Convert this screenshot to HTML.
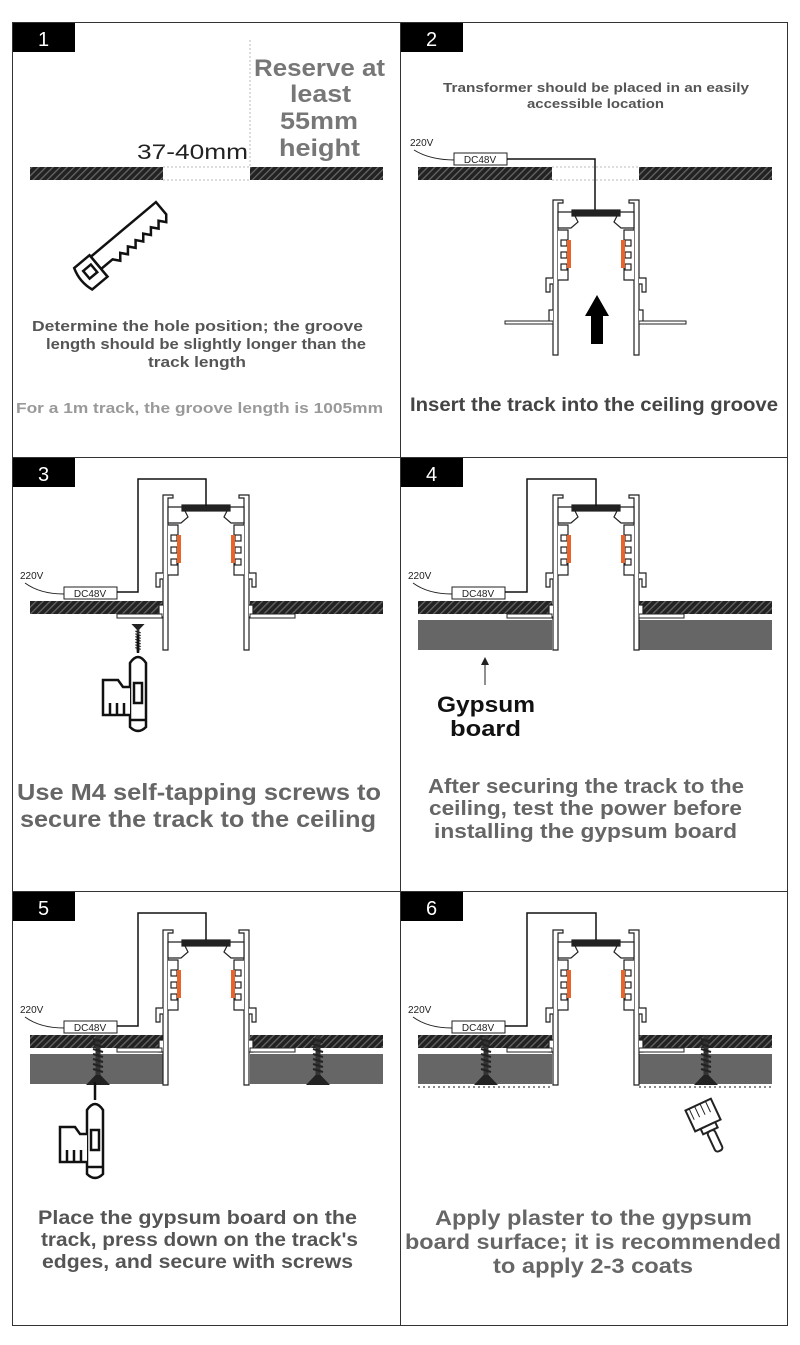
<!DOCTYPE html>
<html><head><meta charset="utf-8"><style>
html,body{margin:0;padding:0;background:#fff}
svg{display:block}
text{font-family:"Liberation Sans",sans-serif;font-weight:bold}
</style></head><body>
<svg width="800" height="1345" viewBox="0 0 800 1345" xmlns="http://www.w3.org/2000/svg">
<defs>
<pattern id="h" width="5" height="5" patternUnits="userSpaceOnUse" patternTransform="rotate(45)">
<rect width="5" height="5" fill="#222"/><rect width="1.3" height="5" fill="#666"/>
</pattern>
<g id="trk" fill="#fff" stroke="#222" stroke-width="1.2">
<path d="M-43 0 H-33 V3 H-38 V155 H-43 Z"/>
<path d="M43 0 H33 V3 H38 V155 H43 Z"/>
<path d="M-38 12 H-23 L-18 22 L-25 28 H-38 Z"/>
<path d="M38 12 H23 L18 22 L25 28 H38 Z"/>
<rect x="-24" y="10" width="48" height="6" fill="#222"/>
<path d="M-38 30 H-28 V80 H-38"/>
<path d="M38 30 H28 V80 H38"/>
<rect x="-35" y="40" width="6" height="6"/><rect x="-35" y="52" width="6" height="6"/><rect x="-35" y="64" width="6" height="6"/>
<rect x="29" y="40" width="6" height="6"/><rect x="29" y="52" width="6" height="6"/><rect x="29" y="64" width="6" height="6"/>
<rect x="-29" y="40" width="4" height="28" fill="#e8642a" stroke="none"/>
<rect x="25" y="40" width="4" height="28" fill="#e8642a" stroke="none"/>
<path d="M-43 78 H-50 V92 H-46 V84 H-43"/>
<path d="M43 78 H50 V92 H46 V84 H43"/>
<path d="M-43 110 H-47 V122 H-43"/>
<path d="M43 110 H47 V122 H43"/>
</g>
<g id="drill" fill="#fff" stroke="#111" stroke-width="2.5">
<line x1="0" y1="-30" x2="0" y2="-12"/>
<path d="M-8 -2 Q0 -14 8 -2 V62 Q0 70 -8 62 Z"/>
<rect x="-4" y="18" width="8" height="20"/>
<path d="M-8 22 H-15 L-20 15 H-35 V50 H-8"/>
<line x1="-28" y1="38" x2="-28" y2="50"/><line x1="-21" y1="38" x2="-21" y2="50"/><line x1="-14" y1="38" x2="-14" y2="50"/>
<line x1="-8" y1="55" x2="8" y2="55"/>
</g>
<g id="screw">
<path d="M-2.5 0 H2.5 V40 H-2.5 Z" fill="#333"/>
<path d="M-5 4 L5 7 M-5 9 L5 12 M-5 14 L5 17 M-5 19 L5 22 M-5 24 L5 27 M-5 29 L5 32 M-5 34 L5 37" stroke="#222" stroke-width="2"/>
<path d="M-2.5 40 L-12 50 H12 L2.5 40 Z" fill="#222"/>
</g>
</defs>
<!-- grid -->
<g fill="none" stroke="#333" stroke-width="1">
<rect x="12.5" y="22.5" width="775" height="1303"/>
<line x1="400.5" y1="22" x2="400.5" y2="1326"/>
<line x1="12" y1="457.5" x2="788" y2="457.5"/>
<line x1="12" y1="891.5" x2="788" y2="891.5"/>
</g>
<g fill="#000">
<rect x="13" y="23" width="62" height="29"/><rect x="401" y="23" width="62" height="29"/>
<rect x="13" y="458" width="62" height="29"/><rect x="401" y="458" width="62" height="29"/>
<rect x="13" y="892" width="62" height="29"/><rect x="401" y="892" width="62" height="29"/>
</g>
<g fill="#fff" font-size="20">
<text x="38" y="46" style="font-weight:normal">1</text><text x="426" y="46" style="font-weight:normal">2</text>
<text x="38" y="481" style="font-weight:normal">3</text><text x="426" y="481" style="font-weight:normal">4</text>
<text x="38" y="915" style="font-weight:normal">5</text><text x="426" y="915" style="font-weight:normal">6</text>
</g>

<!-- Panel 1 -->
<rect x="30" y="167" width="133" height="13" fill="url(#h)"/>
<rect x="250" y="167" width="133" height="13" fill="url(#h)"/>
<g stroke="#bbb" stroke-dasharray="2,2" fill="none">
<line x1="250" y1="40" x2="250" y2="167"/><line x1="163" y1="167" x2="250" y2="167"/><line x1="163" y1="180" x2="250" y2="180"/>
</g>
<text x="137" y="159" font-size="21" fill="#222" style="font-weight:normal" textLength="111" lengthAdjust="spacingAndGlyphs">37-40mm</text>
<g font-size="24" fill="#777">
<text x="254" y="76" textLength="131" lengthAdjust="spacingAndGlyphs">Reserve at</text>
<text x="290" y="102" textLength="61" lengthAdjust="spacingAndGlyphs">least</text>
<text x="280" y="129" textLength="78" lengthAdjust="spacingAndGlyphs">55mm</text>
<text x="279" y="156" textLength="81" lengthAdjust="spacingAndGlyphs">height</text>
</g>
<g transform="translate(133,237) rotate(-40)" fill="#fff" stroke="#111" stroke-width="2.5">
<path d="M-45 -12 H40 V4 L35 10 L30 4 L25 10 L20 4 L15 10 L10 4 L5 10 L0 4 L-5 10 L-10 4 L-15 10 L-20 4 L-25 10 L-30 4 H-45 Z"/>
<path d="M-45 -14 H-65 Q-70 0 -65 14 H-45 Z"/>
<rect x="-60" y="-6" width="10" height="10"/>
</g>
<g font-size="15" fill="#555">
<text x="32" y="331" textLength="331" lengthAdjust="spacingAndGlyphs">Determine the hole position; the groove</text>
<text x="46" y="349" textLength="320" lengthAdjust="spacingAndGlyphs">length should be slightly longer than the</text>
<text x="148" y="367" textLength="98" lengthAdjust="spacingAndGlyphs">track length</text>
<text x="16" y="413" fill="#999" textLength="367" lengthAdjust="spacingAndGlyphs">For a 1m track, the groove length is 1005mm</text>
</g>

<!-- Panel 2 -->
<g font-size="13" fill="#555">
<text x="443" y="92" textLength="306" lengthAdjust="spacingAndGlyphs">Transformer should be placed in an easily</text>
<text x="527" y="108" textLength="137" lengthAdjust="spacingAndGlyphs">accessible location</text>
</g>
<rect x="418" y="167" width="134" height="13" fill="url(#h)"/>
<rect x="639" y="167" width="133" height="13" fill="url(#h)"/>
<g stroke="#bbb" stroke-dasharray="2,2"><line x1="552" y1="167" x2="639" y2="167"/><line x1="552" y1="180" x2="639" y2="180"/></g>
<text x="410" y="146" font-size="10" fill="#222" style="font-weight:normal">220V</text>
<path d="M414 150 Q430 160 455 160" fill="none" stroke="#222"/>
<rect x="454" y="153" width="53" height="12" fill="#fff" stroke="#222"/>
<text x="480" y="163" font-size="10" fill="#222" text-anchor="middle" style="font-weight:normal">DC48V</text>
<path d="M507 159 H595 V210" fill="none" stroke="#111" stroke-width="1.5"/>
<use href="#trk" x="596" y="200"/>
<g fill="#fff" stroke="#222"><rect x="505" y="321" width="48" height="3"/><rect x="639" y="321" width="47" height="3"/></g>
<path d="M597 295 L609 316 H603 V344 H591 V316 H585 Z" fill="#000"/>
<text x="410" y="411" font-size="19" fill="#444" textLength="368" lengthAdjust="spacingAndGlyphs">Insert the track into the ceiling groove</text>

<!-- Panel 3 -->
<rect x="30" y="601" width="134" height="13" fill="url(#h)"/>
<rect x="250" y="601" width="133" height="13" fill="url(#h)"/>
<use href="#trk" x="206" y="495"/>
<g fill="#fff" stroke="#222"><rect x="117" y="614" width="45" height="4"/><rect x="250" y="614" width="45" height="4"/></g>
<text x="20" y="579" font-size="10" fill="#222" style="font-weight:normal">220V</text>
<path d="M25 583 Q40 594 64 594" fill="none" stroke="#222"/>
<rect x="64" y="587" width="53" height="12" fill="#fff" stroke="#222"/>
<text x="90" y="597" font-size="10" fill="#222" text-anchor="middle" style="font-weight:normal">DC48V</text>
<path d="M117 592 H138 V479 H206 V506" fill="none" stroke="#111" stroke-width="1.5"/>
<g transform="translate(138,624) scale(0.55)"><use href="#screw" transform="rotate(180 0 25)"/></g>
<use href="#drill" x="138" y="665"/>
<g font-size="23" fill="#666">
<text x="17" y="800" textLength="364" lengthAdjust="spacingAndGlyphs">Use M4 self-tapping screws to</text>
<text x="20" y="827" textLength="356" lengthAdjust="spacingAndGlyphs">secure the track to the ceiling</text>
</g>

<!-- Panel 4 -->
<rect x="418" y="601" width="134" height="13" fill="url(#h)"/>
<rect x="639" y="601" width="133" height="13" fill="url(#h)"/>
<rect x="418" y="620" width="134" height="30" fill="#666"/>
<rect x="639" y="620" width="133" height="30" fill="#666"/>
<use href="#trk" x="596" y="495"/>
<g fill="#fff" stroke="#222"><rect x="507" y="614" width="45" height="4"/><rect x="639" y="614" width="45" height="4"/></g>
<text x="408" y="579" font-size="10" fill="#222" style="font-weight:normal">220V</text>
<path d="M413 583 Q428 594 452 594" fill="none" stroke="#222"/>
<rect x="452" y="587" width="53" height="12" fill="#fff" stroke="#222"/>
<text x="478" y="597" font-size="10" fill="#222" text-anchor="middle" style="font-weight:normal">DC48V</text>
<path d="M505 592 H527 V479 H596 V506" fill="none" stroke="#111" stroke-width="1.5"/>
<line x1="485" y1="662" x2="485" y2="685" stroke="#222"/><path d="M485 657 L481 665 H489 Z" fill="#222"/>
<g font-size="22" fill="#111"><text x="437" y="712" textLength="98" lengthAdjust="spacingAndGlyphs">Gypsum</text><text x="450" y="736" textLength="71" lengthAdjust="spacingAndGlyphs">board</text></g>
<g font-size="20" fill="#666">
<text x="428" y="793" textLength="316" lengthAdjust="spacingAndGlyphs">After securing the track to the</text>
<text x="429" y="815" textLength="313" lengthAdjust="spacingAndGlyphs">ceiling, test the power before</text>
<text x="434" y="838" textLength="303" lengthAdjust="spacingAndGlyphs">installing the gypsum board</text>
</g>

<!-- Panel 5 -->
<rect x="30" y="1035" width="134" height="13" fill="url(#h)"/>
<rect x="250" y="1035" width="133" height="13" fill="url(#h)"/>
<rect x="30" y="1054" width="134" height="30" fill="#666"/>
<rect x="250" y="1054" width="133" height="30" fill="#666"/>
<use href="#trk" x="206" y="930"/>
<g fill="#fff" stroke="#222"><rect x="117" y="1048" width="45" height="4"/><rect x="250" y="1048" width="45" height="4"/></g>
<text x="20" y="1013" font-size="10" fill="#222" style="font-weight:normal">220V</text>
<path d="M25 1017 Q40 1028 64 1028" fill="none" stroke="#222"/>
<rect x="64" y="1021" width="53" height="12" fill="#fff" stroke="#222"/>
<text x="90" y="1031" font-size="10" fill="#222" text-anchor="middle" style="font-weight:normal">DC48V</text>
<path d="M117 1026 H138 V913 H206 V940" fill="none" stroke="#111" stroke-width="1.5"/>
<use href="#screw" x="98" y="1035"/>
<use href="#screw" x="318" y="1035"/>
<use href="#drill" x="95" y="1112"/>
<g font-size="19" fill="#555">
<text x="38" y="1224" textLength="319" lengthAdjust="spacingAndGlyphs">Place the gypsum board on the</text>
<text x="41" y="1246" textLength="317" lengthAdjust="spacingAndGlyphs">track, press down on the track's</text>
<text x="42" y="1268" textLength="311" lengthAdjust="spacingAndGlyphs">edges, and secure with screws</text>
</g>

<!-- Panel 6 -->
<rect x="418" y="1035" width="134" height="13" fill="url(#h)"/>
<rect x="639" y="1035" width="133" height="13" fill="url(#h)"/>
<rect x="418" y="1054" width="134" height="30" fill="#666"/>
<rect x="639" y="1054" width="133" height="30" fill="#666"/>
<g stroke="#888" stroke-dasharray="2,3" stroke-width="2"><line x1="418" y1="1087" x2="552" y2="1087"/><line x1="639" y1="1087" x2="772" y2="1087"/></g>
<use href="#trk" x="596" y="930"/>
<g fill="#fff" stroke="#222"><rect x="507" y="1048" width="45" height="4"/><rect x="639" y="1048" width="45" height="4"/></g>
<text x="408" y="1013" font-size="10" fill="#222" style="font-weight:normal">220V</text>
<path d="M413 1017 Q428 1028 452 1028" fill="none" stroke="#222"/>
<rect x="452" y="1021" width="53" height="12" fill="#fff" stroke="#222"/>
<text x="478" y="1031" font-size="10" fill="#222" text-anchor="middle" style="font-weight:normal">DC48V</text>
<path d="M505 1026 H527 V913 H596 V940" fill="none" stroke="#111" stroke-width="1.5"/>
<use href="#screw" x="486" y="1035"/>
<use href="#screw" x="706" y="1035"/>
<g transform="translate(710,1130) rotate(-25)" fill="#fff" stroke="#222" stroke-width="2">
<path d="M-14 -28 H14 V-5 H-14 Z"/><path d="M-10 -28 V-16 M-4 -28 V-16 M2 -28 V-16 M8 -28 V-16" stroke-width="1"/>
<rect x="-8" y="-5" width="16" height="6"/><rect x="-4" y="1" width="8" height="22" rx="3"/>
</g>
<g font-size="21" fill="#666">
<text x="435" y="1225" textLength="317" lengthAdjust="spacingAndGlyphs">Apply plaster to the gypsum</text>
<text x="405" y="1249" textLength="376" lengthAdjust="spacingAndGlyphs">board surface; it is recommended</text>
<text x="493" y="1273" textLength="200" lengthAdjust="spacingAndGlyphs">to apply 2-3 coats</text>
</g>
</svg>
</body></html>
